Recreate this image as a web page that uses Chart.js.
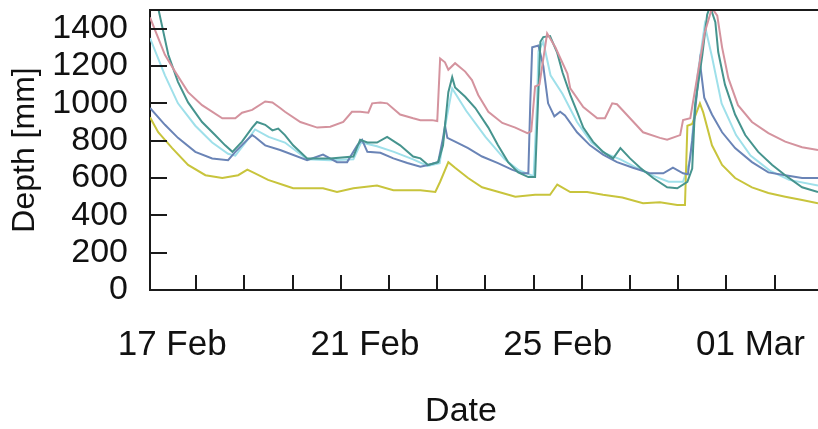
<!DOCTYPE html>
<html>
<head>
<meta charset="utf-8">
<title>Depth</title>
<script src="https://cdn.jsdelivr.net/npm/chart.js@4/dist/chart.umd.min.js"></script>
<style>
  html, body { margin: 0; padding: 0; background: #fff; }
  #chart { display: block; }
</style>
</head>
<body>
<canvas id="chart" width="818" height="429"></canvas>
<script>
// x values are days after 17 Feb 00:00
const dateTicks = [0, 4, 8, 12];
const dateLabels = ["17 Feb", "21 Feb", "25 Feb", "01 Mar"];
const depthTicks = [0, 200, 400, 600, 800, 1000, 1200, 1400];

const pinkDays = [-0.46, -0.15, 0.06, 0.33, 0.62, 1.04, 1.31, 1.45, 1.66, 1.93, 2.08, 2.24, 2.34, 2.66, 3.01, 3.28, 3.55, 3.73, 3.9, 4.07, 4.15, 4.32, 4.46, 4.73, 5.0, 5.15, 5.39, 5.5, 5.56, 5.66, 5.73, 5.87, 6.08, 6.22, 6.35, 6.56, 6.85, 7.12, 7.37, 7.45, 7.53, 7.62, 7.78, 7.95, 8.2, 8.26, 8.53, 8.82, 8.98, 9.13, 9.23, 9.5, 9.77, 10.12, 10.27, 10.54, 10.6, 10.75, 10.9, 11.05, 11.2, 11.31, 11.41, 11.54, 11.74, 12.03, 12.37, 12.72, 13.07, 13.4];
const pinkDepth = [1460, 1260, 1170, 1060, 990, 920, 920, 950, 965, 1010, 1005, 975, 955, 900, 870, 875, 900, 955, 955, 950, 1000, 1005, 1000, 940, 920, 910, 910, 905, 1240, 1220, 1180, 1215, 1170, 1125, 1045, 955, 895, 870, 840, 850, 1090, 1100, 1375, 1300, 1160, 1080, 980, 920, 920, 1000, 995, 920, 845, 815, 805, 830, 910, 920, 1150, 1380, 1510, 1470, 1300, 1135, 990, 900, 840, 795, 765, 750];

const tealDays = [-0.4, -0.29, -0.08, 0.12, 0.33, 0.62, 0.89, 1.1, 1.25, 1.45, 1.66, 1.76, 1.93, 2.08, 2.2, 2.34, 2.51, 2.8, 3.28, 3.76, 3.9, 4.05, 4.25, 4.46, 4.73, 5.0, 5.15, 5.31, 5.52, 5.62, 5.73, 5.81, 5.87, 6.08, 6.29, 6.56, 6.76, 6.97, 7.18, 7.39, 7.53, 7.59, 7.64, 7.7, 7.84, 7.99, 8.1, 8.26, 8.4, 8.53, 8.73, 8.94, 9.15, 9.3, 9.5, 9.71, 9.98, 10.27, 10.48, 10.69, 10.79, 10.85, 11.0, 11.1, 11.16, 11.27, 11.33, 11.47, 11.68, 11.89, 12.16, 12.45, 12.72, 13.07, 13.4];
const tealDepth = [1600, 1510, 1260, 1115, 1005, 900, 830, 775, 740, 795, 870, 900, 885, 855, 865, 830, 775, 705, 705, 715, 805, 790, 790, 820, 775, 715, 705, 670, 685, 775, 1060, 1140, 1085, 1035, 975, 870, 775, 685, 630, 605, 605, 1000, 1330, 1355, 1360, 1270, 1165, 1045, 955, 870, 795, 740, 705, 760, 705, 655, 600, 550, 545, 580, 650, 990, 1260, 1475, 1520, 1435, 1275, 1100, 940, 830, 740, 670, 615, 550, 525];

const blueDays = [-0.46, -0.15, 0.12, 0.48, 0.83, 1.16, 1.31, 1.52, 1.66, 1.72, 1.93, 2.24, 2.8, 3.13, 3.42, 3.63, 3.84, 3.94, 4.05, 4.32, 4.59, 4.88, 5.15, 5.31, 5.52, 5.62, 5.66, 5.71, 5.87, 6.14, 6.43, 6.76, 7.05, 7.26, 7.39, 7.43, 7.47, 7.6, 7.7, 7.8, 7.93, 8.05, 8.15, 8.4, 8.67, 8.94, 9.23, 9.56, 9.92, 10.19, 10.39, 10.6, 10.7, 10.79, 10.95, 11.04, 11.2, 11.41, 11.68, 12.03, 12.37, 12.72, 13.07, 13.4];
const blueDepth = [975, 885, 815, 740, 705, 695, 740, 795, 830, 820, 775, 750, 695, 725, 685, 685, 775, 805, 740, 735, 705, 680, 660, 670, 686, 815, 880, 815, 795, 760, 715, 680, 645, 625, 625, 1000, 1300, 1310, 1200, 1000, 930, 955, 935, 845, 775, 725, 685, 655, 625, 625, 655, 625, 620, 800, 1220, 1030, 940, 845, 760, 685, 630, 615, 600, 600];

const yellowDays = [-0.46, -0.29, 0.0, 0.33, 0.69, 1.04, 1.37, 1.56, 1.72, 1.99, 2.34, 2.51, 3.13, 3.42, 3.76, 4.25, 4.59, 5.15, 5.46, 5.56, 5.73, 5.87, 6.14, 6.43, 6.85, 7.12, 7.53, 7.84, 7.99, 8.26, 8.61, 8.94, 9.34, 9.77, 10.12, 10.48, 10.64, 10.69, 10.79, 10.95, 11.02, 11.2, 11.41, 11.68, 12.03, 12.37, 12.72, 13.07, 13.4];
const yellowDepth = [925, 845, 760, 670, 615, 600, 615, 645, 625, 590, 560, 545, 545, 525, 545, 560, 535, 535, 525, 580, 685, 655, 600, 550, 520, 500, 510, 510, 565, 525, 525, 510, 495, 465, 470, 455, 455, 880, 890, 1000, 950, 775, 670, 600, 550, 520, 500, 482, 465];

const cyanDays = [-0.46, -0.15, 0.12, 0.48, 0.83, 1.16, 1.31, 1.52, 1.72, 2.0, 2.34, 2.8, 3.28, 3.76, 3.92, 4.25, 4.6, 5.0, 5.3, 5.55, 5.68, 5.81, 6.1, 6.5, 6.9, 7.2, 7.5, 7.57, 7.6, 7.7, 7.85, 8.1, 8.4, 8.7, 9.0, 9.3, 9.6, 10.0, 10.3, 10.6, 10.75, 10.9, 11.05, 11.2, 11.4, 11.7, 12.0, 12.4, 12.8, 13.4];
const cyanDepth = [1350, 1150, 1000, 880, 790, 730, 720, 790, 860, 820, 790, 700, 695, 700, 790, 770, 740, 700, 665, 680, 900, 1080, 960, 820, 700, 640, 610, 1000, 1280, 1330, 1150, 1050, 900, 790, 730, 700, 660, 610, 580, 580, 700, 1150, 1420, 1250, 1000, 830, 720, 640, 590, 560];

function points(days, depth) {
  return days.map((d, i) => ({ x: d, y: depth[i] }));
}

function series(days, depth, color, width) {
  return {
    data: points(days, depth),
    borderColor: color,
    borderWidth: width,
    pointRadius: 0,
    tension: 0,
    fill: false,
  };
}

// keep the plot box where the reference has it
function noEdgePadding(scale) {
  scale.paddingTop = 0;
  scale.paddingBottom = 0;
  scale.paddingLeft = 0;
  scale.paddingRight = 0;
}

Chart.defaults.font.family = "'Liberation Sans', Arial, sans-serif";
Chart.defaults.color = "#111";

// tick marks pointing inward, top frame line and x title
const framePlugin = {
  id: "frame",
  afterDraw(chart) {
    const ctx = chart.ctx;
    const area = chart.chartArea;
    const xs = chart.scales.x;
    const ys = chart.scales.y;
    ctx.save();
    ctx.strokeStyle = "#1a1a1a";
    ctx.lineWidth = 2;
    ctx.beginPath();
    ctx.moveTo(area.left - 1, area.top);
    ctx.lineTo(area.right, area.top);
    depthTicks.forEach((v) => {
      if (v === 0) return;
      const y = Math.round(ys.getPixelForValue(v));
      ctx.moveTo(area.left, y);
      ctx.lineTo(area.left + 17, y);
    });
    for (let d = 0.5; d < xs.max; d += 1) {
      const x = Math.round(xs.getPixelForValue(d));
      ctx.moveTo(x, area.bottom);
      ctx.lineTo(x, area.bottom - 15);
    }
    ctx.stroke();

    ctx.fillStyle = "#111";
    ctx.font = "34px 'Liberation Sans', Arial, sans-serif";
    ctx.textAlign = "center";
    ctx.textBaseline = "middle";
    ctx.fillText("Date", 461, 412);
    ctx.restore();
  },
};

new Chart(document.getElementById("chart"), {
  type: "line",
  data: {
    datasets: [
      series(pinkDays, pinkDepth, "#d4939e", 2),
      series(tealDays, tealDepth, "#46948e", 2),
      series(blueDays, blueDepth, "#6a84b6", 2),
      series(yellowDays, yellowDepth, "#c8c43c", 2),
      series(cyanDays, cyanDepth, "#9fe0ea", 2),
    ],
  },
  options: {
    responsive: false,
    animation: false,
    devicePixelRatio: 1,
    layout: { padding: { top: 10, right: 0, bottom: 0, left: 0 } },
    plugins: {
      legend: { display: false },
      tooltip: { enabled: false },
    },
    scales: {
      x: {
        type: "linear",
        min: -0.46,
        max: 13.4,
        afterBuildTicks: (scale) => {
          scale.ticks = dateTicks.map((v) => ({ value: v }));
        },
        afterFit: (scale) => {
          scale.height = 139;
          noEdgePadding(scale);
        },
        grid: { display: false, drawTicks: false },
        border: { display: true, color: "#1a1a1a", width: 2 },
        ticks: {
          autoSkip: false,
          maxRotation: 0,
          padding: 34,
          font: { size: 35 },
          callback: (v) => dateLabels[dateTicks.indexOf(v)],
        },
      },
      y: {
        min: 0,
        max: 1500,
        afterBuildTicks: (scale) => {
          scale.ticks = depthTicks.map((v) => ({ value: v }));
        },
        afterFit: (scale) => {
          scale.width = 150;
          noEdgePadding(scale);
        },
        grid: { display: false, drawTicks: false },
        border: { display: true, color: "#1a1a1a", width: 2 },
        ticks: {
          autoSkip: false,
          padding: 22,
          font: { size: 34 },
          callback: (v) => String(v),
        },
        title: {
          display: true,
          text: "Depth [mm]",
          font: { size: 32 },
          padding: { top: 6, bottom: 0 },
        },
      },
    },
  },
  plugins: [framePlugin],
});
</script>
</body>
</html>
